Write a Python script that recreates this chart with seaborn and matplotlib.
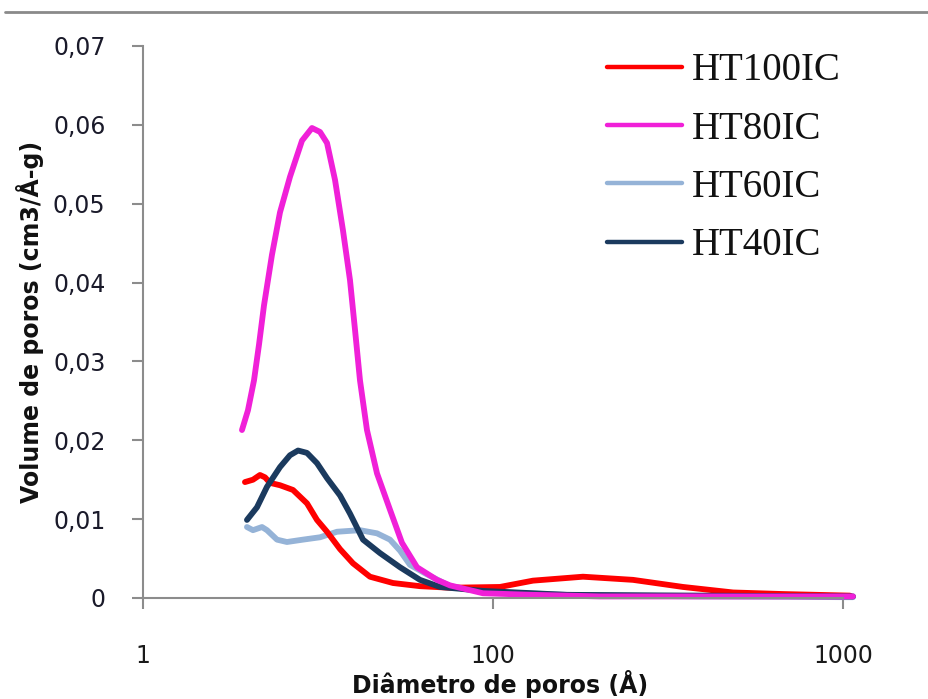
import matplotlib
matplotlib.use("Agg")
import matplotlib.pyplot as plt
import seaborn as sns
import pandas as pd
from matplotlib.lines import Line2D
from matplotlib.ticker import NullLocator, FixedLocator, FixedFormatter

# ---- data ----
series_names = ["HT100IC", "HT80IC", "HT60IC", "HT40IC"]

ht100_x = [19.56, 20.62, 21.59, 22.32, 23.07, 24.63, 26.83, 29.42, 31.42, 33.56, 36.56, 39.81,
           44.52, 51.80, 61.86, 75.38, 104.7, 130.1, 180.8, 251.2, 349.1, 485.3, 674.0, 1047]
ht100_y = [0.0147, 0.0150, 0.0156, 0.0153, 0.0146, 0.0143, 0.0137, 0.0120, 0.0099, 0.0084, 0.0062, 0.0044,
           0.0027, 0.0019, 0.0015, 0.0013, 0.0014, 0.0022, 0.0027, 0.0023, 0.0014, 0.0007, 0.0005, 0.0003]

ht80_x = [19.18, 19.95, 20.76, 21.45, 22.17, 23.36, 24.63, 26.30, 28.47, 30.40, 32.05, 33.56, 35.38,
          37.28, 39.04, 40.35, 41.69, 43.65, 46.63, 50.78, 54.95, 60.67, 69.18, 75.38, 93.63, 130.1,
          202.2, 390.3, 1068]
ht80_y = [0.0213, 0.0238, 0.0276, 0.0321, 0.0371, 0.0435, 0.0489, 0.0534, 0.0580, 0.0596, 0.0591, 0.0577, 0.0530,
          0.0466, 0.0403, 0.0340, 0.0276, 0.0213, 0.0158, 0.0112, 0.0070, 0.0039, 0.0023, 0.0016, 0.0006, 0.0004,
          0.0002, 0.0002, 0.0002]

ht60_x = [19.82, 20.62, 21.88, 22.61, 24.15, 25.78, 28.65, 32.05, 35.84, 41.69, 46.63, 50.78, 54.25,
          57.93, 64.76, 75.38, 93.63, 162.7, 390.3, 1068]
ht60_y = [0.0090, 0.0086, 0.0090, 0.0086, 0.0074, 0.0071, 0.0074, 0.0077, 0.0084, 0.0086, 0.0082, 0.0074, 0.0060,
          0.0042, 0.0030, 0.0015, 0.0008, 0.0004, 0.0002, 0.0001]

ht40_x = [19.82, 21.17, 22.61, 24.63, 26.30, 27.74, 29.42, 31.42, 33.56, 36.56, 39.04, 42.53, 47.54,
          54.25, 61.86, 70.56, 93.63, 162.7, 390.3, 1068]
ht40_y = [0.0099, 0.0115, 0.0141, 0.0166, 0.0181, 0.0187, 0.0184, 0.0171, 0.0152, 0.0130, 0.0107, 0.0074, 0.0057,
          0.0039, 0.0023, 0.0014, 0.0009, 0.0004, 0.0003, 0.0002]

x_ticks = [10, 100, 1000]
x_tick_labels = ["1", "100", "1000"]
y_ticks = [0, 0.01, 0.02, 0.03, 0.04, 0.05, 0.06, 0.07]
y_tick_labels = ["0", "0,01", "0,02", "0,03", "0,04", "0,05", "0,06", "0,07"]

colors = {"HT100IC": "#FF0000", "HT80IC": "#F020D8", "HT60IC": "#95B3D7", "HT40IC": "#1B3A5E"}

frames = []
for name, xs, ys in [("HT100IC", ht100_x, ht100_y), ("HT80IC", ht80_x, ht80_y),
                     ("HT60IC", ht60_x, ht60_y), ("HT40IC", ht40_x, ht40_y)]:
    frames.append(pd.DataFrame({"diam": xs, "vol": ys, "serie": name}))
df = pd.concat(frames, ignore_index=True)

sns.set_theme(style="white")
plt.rcParams["font.family"] = ["DejaVu Sans"]

fig = plt.figure(figsize=(9.29, 6.99), dpi=100)
ax = fig.add_axes([0.1539, 0.1445, 0.7535, 0.7897])

draw_order = ["HT60IC", "HT100IC", "HT40IC", "HT80IC"]
for name in draw_order:
    sub = df[df["serie"] == name]
    sns.lineplot(data=sub, x="diam", y="vol", color=colors[name], lw=4.2,
                 estimator=None, sort=True, ax=ax, label=name, clip_on=False)
for ln in ax.lines:
    ln.set_solid_joinstyle("round")
    ln.set_solid_capstyle("round")

ax.set_xscale("log")
ax.set_xlim(10, 1000)
ax.set_ylim(0, 0.07)
ax.xaxis.set_major_locator(FixedLocator(x_ticks))
ax.xaxis.set_major_formatter(FixedFormatter(x_tick_labels))
ax.xaxis.set_minor_locator(NullLocator())
ax.set_yticks(y_ticks)
ax.set_yticklabels(y_tick_labels)

for s in ["top", "right"]:
    ax.spines[s].set_visible(False)
for s in ["left", "bottom"]:
    ax.spines[s].set_color("#8c8c8c")
    ax.spines[s].set_linewidth(1.5)

ax.tick_params(axis="y", which="major", direction="out", length=8, width=1.5, color="#8c8c8c",
               pad=19, labelsize=17, labelcolor="#1a1a2a", left=True)
ax.tick_params(axis="x", which="major", direction="out", length=8, width=1.5, color="#8c8c8c",
               pad=25, labelsize=17, labelcolor="#1a1a1a", bottom=True)

ax.set_xlabel("Diâmetro de poros (Å)", fontsize=17, fontweight="bold", color="#111111")
ax.xaxis.set_label_coords(0.51, -0.13)
ax.set_ylabel("Volume de poros (cm3/Å-g)", fontsize=17, fontweight="bold", color="#111111")
ax.yaxis.set_label_coords(-0.142, 0.5)

# legend in the reference order
leg_handles = [Line2D([], [], color=colors[n], lw=3.2) for n in series_names]
leg = ax.legend(leg_handles, series_names, loc="upper left", bbox_to_anchor=(0.632, 0.953),
                bbox_transform=fig.transFigure, frameon=False,
                prop={"family": "Liberation Serif", "size": 28},
                handlelength=1.93, handletextpad=0.26, labelspacing=0.55, borderpad=0.0)
for t in leg.get_texts():
    t.set_color("#111111")

# gray rule at the very top of the image
fig.add_artist(Line2D([0.005, 1.0], [0.983, 0.983], transform=fig.transFigure,
                      color="#8a8a8a", lw=2))

ax.set_facecolor("white")
fig.patch.set_facecolor("white")
fig.savefig("out.png", dpi=100)
